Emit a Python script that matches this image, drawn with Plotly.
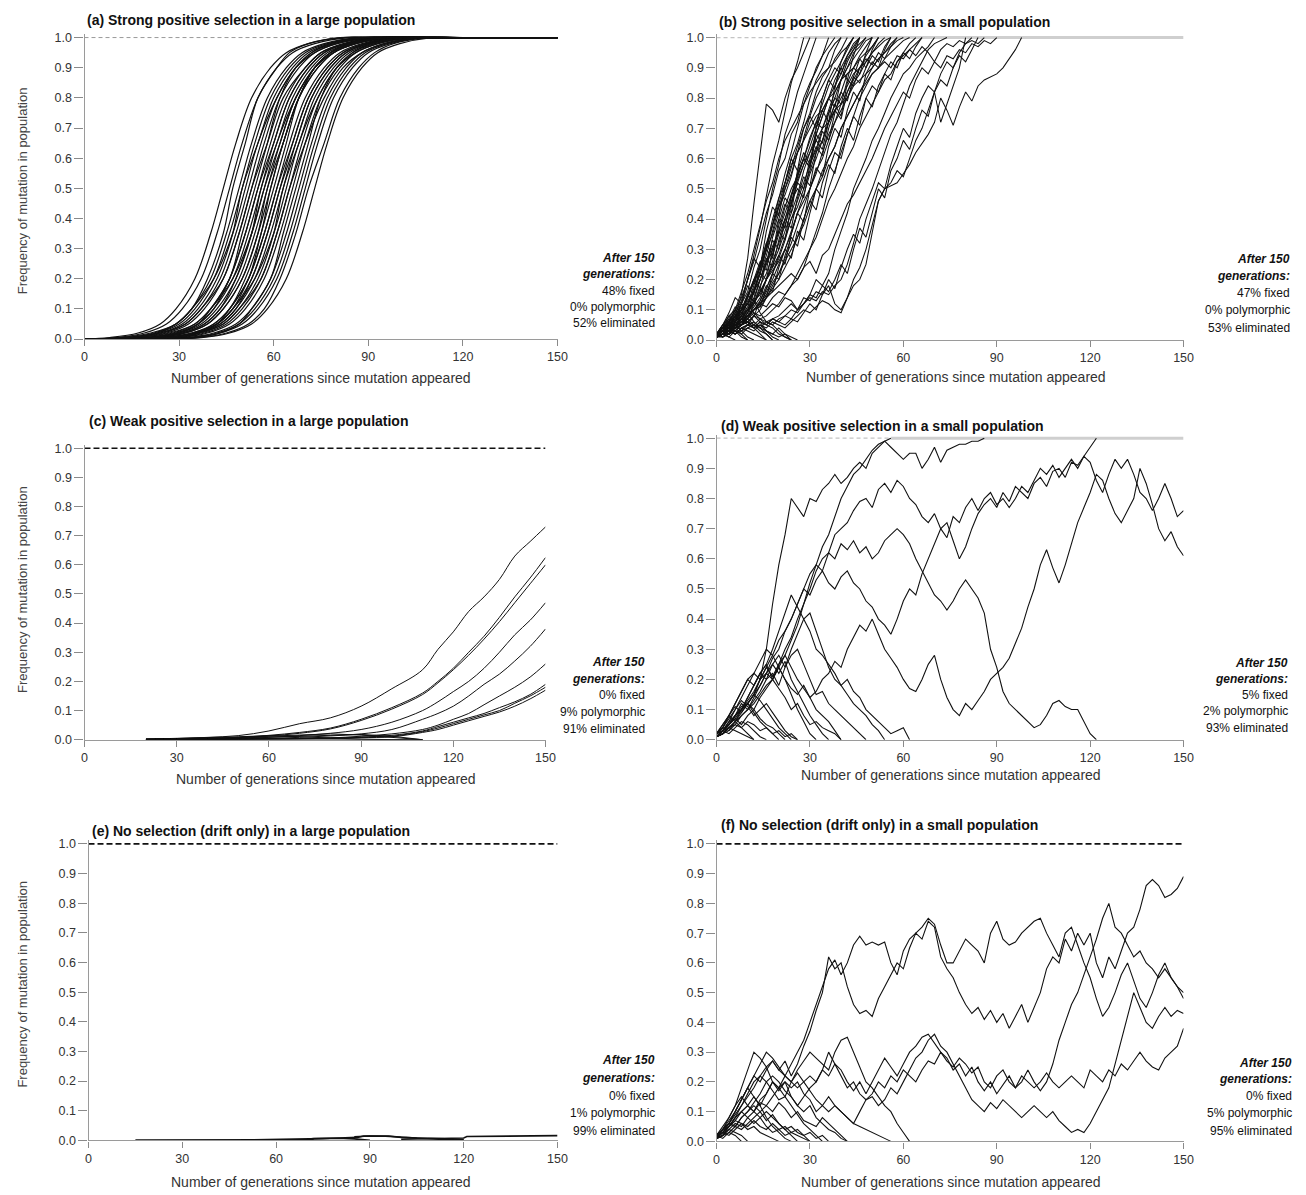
import plotly.graph_objects as go

W, H = 1306, 1195
FONT = "Liberation Sans, Arial, Helvetica, sans-serif"

# ------------------------------------------------------------------ data
PANEL_IDS = ["a", "b", "c", "d", "e", "f"]
TITLES = [
    "(a) Strong positive selection in a large population",
    "(b) Strong positive selection in a small population",
    "(c) Weak positive selection in a large population",
    "(d) Weak positive selection in a small population",
    "(e) No selection (drift only) in a large population",
    "(f) No selection (drift only) in a small population",
]
STATS = {
    "a": ["48% fixed", "0% polymorphic", "52% eliminated"],
    "b": ["47% fixed", "0% polymorphic", "53% eliminated"],
    "c": ["0% fixed", "9% polymorphic", "91% eliminated"],
    "d": ["5% fixed", "2% polymorphic", "93% eliminated"],
    "e": ["0% fixed", "1% polymorphic", "99% eliminated"],
    "f": ["0% fixed", "5% polymorphic", "95% eliminated"],
}
X_TITLE = "Number of generations since mutation appeared"
Y_TITLE = "Frequency of mutation in population"
X_TICKS = [0, 30, 60, 90, 120, 150]
Y_TICKS = [0.0, 0.1, 0.2, 0.3, 0.4, 0.5, 0.6, 0.7, 0.8, 0.9, 1.0]
Y_TICK_LABELS = ["0.0", "0.1", "0.2", "0.3", "0.4", "0.5", "0.6", "0.7", "0.8", "0.9", "1.0"]
GEN_END = 150
GEN_STEP = 2  # spacing of the sampled generations in panels b, d, f

# (a) generation at which each trajectory reaches the frequency levels below
A_LEVELS = [0.005, 0.02, 0.05, 0.1, 0.2, 0.35, 0.5, 0.65, 0.8, 0.9, 0.95, 0.98, 1.0]
A_CURVES = [
    [8, 17, 24, 29, 35, 40, 44, 48, 53, 59, 64, 71, 82],
    [10, 19, 26, 31, 37, 42, 46, 50, 55, 61, 66, 73, 84],
    [15, 23, 29, 34, 39, 44, 47, 51, 55, 61, 65, 71, 81],
    [13, 22, 29, 34, 40, 45, 49, 53, 58, 64, 69, 76, 87],
    [14, 23, 30, 35, 41, 46, 50, 54, 59, 65, 70, 77, 88],
    [11, 21, 29, 34, 41, 47, 51, 55, 61, 67, 73, 80, 93],
    [16, 25, 32, 37, 43, 48, 52, 56, 61, 67, 72, 79, 90],
    [17, 26, 33, 38, 44, 49, 53, 57, 62, 68, 73, 80, 91],
    [22, 30, 36, 40, 46, 50, 54, 58, 62, 67, 72, 78, 88],
    [19, 28, 35, 40, 46, 51, 55, 59, 64, 70, 75, 82, 93],
    [20, 29, 36, 41, 46, 51, 55, 60, 65, 71, 76, 83, 94],
    [20, 29, 36, 41, 47, 52, 56, 60, 65, 71, 76, 83, 94],
    [17, 27, 35, 40, 47, 53, 57, 61, 67, 73, 79, 86, 98],
    [22, 31, 38, 43, 49, 54, 58, 62, 67, 73, 78, 85, 96],
    [23, 32, 39, 44, 50, 55, 58, 63, 68, 74, 79, 86, 97],
    [23, 32, 39, 44, 50, 55, 59, 63, 68, 74, 79, 86, 97],
    [28, 36, 42, 46, 52, 56, 60, 64, 68, 73, 78, 84, 94],
    [25, 34, 41, 46, 52, 57, 61, 65, 70, 76, 81, 88, 99],
    [26, 35, 42, 47, 53, 58, 62, 66, 71, 77, 82, 89, 100],
    [27, 36, 43, 48, 53, 58, 62, 67, 72, 78, 83, 90, 101],
    [27, 36, 43, 48, 54, 59, 63, 67, 72, 78, 83, 90, 101],
    [24, 34, 42, 47, 54, 60, 64, 68, 74, 80, 86, 93, 104],
    [29, 38, 45, 50, 56, 61, 65, 69, 74, 80, 85, 92, 103],
    [30, 39, 46, 51, 57, 62, 66, 70, 75, 81, 86, 93, 104],
    [35, 43, 49, 53, 59, 63, 67, 71, 75, 80, 85, 91, 101],
    [32, 41, 48, 53, 59, 64, 68, 72, 77, 83, 88, 95, 106],
    [33, 42, 49, 54, 60, 65, 69, 73, 78, 84, 89, 96, 107],
    [34, 43, 50, 55, 61, 66, 70, 74, 79, 85, 90, 97, 108],
    [36, 45, 52, 57, 62, 67, 71, 76, 81, 87, 92, 98, 109],
    [37, 46, 53, 58, 64, 69, 73, 77, 82, 88, 93, 100, 110],
    [14, 24, 32, 37, 44, 49, 53, 58, 63, 70, 75, 83, 95],
    [21, 30, 37, 42, 48, 53, 56, 61, 66, 72, 77, 84, 95],
    [27, 35, 41, 46, 51, 56, 59, 63, 68, 73, 78, 84, 94],
    [26, 35, 42, 47, 52, 57, 61, 66, 71, 77, 82, 89, 100],
    [28, 37, 44, 49, 55, 60, 63, 68, 73, 79, 84, 91, 102],
    [26, 36, 44, 49, 56, 61, 65, 70, 76, 82, 88, 95, 106],
    [15, 24, 31, 36, 42, 47, 50, 55, 60, 66, 71, 78, 89],
    [22, 31, 38, 43, 48, 53, 57, 62, 67, 73, 78, 85, 96],
]

# (b) frequencies every GEN_STEP generations until fixation
B_CURVES = [
    [0.01, 0.02, 0.04, 0.08, 0.15, 0.27, 0.45, 0.62, 0.78, 0.76, 0.72, 0.8, 0.86, 0.9, 0.95, 1.0],
    [0.02, 0.04, 0.05, 0.09, 0.13, 0.2, 0.28, 0.37, 0.48, 0.58, 0.66, 0.76, 0.85, 0.92, 1.0],
    [0.01, 0.02, 0.05, 0.07, 0.12, 0.16, 0.24, 0.3, 0.4, 0.5, 0.58, 0.68, 0.74, 0.82, 0.88, 0.94, 1.0],
    [0.02, 0.03, 0.02, 0.05, 0.08, 0.11, 0.17, 0.22, 0.3, 0.38, 0.46, 0.55, 0.62, 0.7, 0.78, 0.84, 0.9, 0.94, 0.97, 1.0],
    [0.01, 0.03, 0.06, 0.1, 0.14, 0.2, 0.26, 0.34, 0.42, 0.48, 0.56, 0.6, 0.68, 0.72, 0.8, 0.85, 0.89, 0.94, 1.0],
    [0.02, 0.01, 0.03, 0.06, 0.09, 0.12, 0.18, 0.25, 0.31, 0.4, 0.47, 0.52, 0.6, 0.65, 0.72, 0.8, 0.86, 0.9, 0.95, 0.98, 1.0],
    [0.01, 0.02, 0.04, 0.05, 0.08, 0.13, 0.16, 0.22, 0.28, 0.36, 0.44, 0.5, 0.57, 0.64, 0.7, 0.75, 0.82, 0.87, 0.9, 0.96, 1.0],
    [0.02, 0.04, 0.03, 0.06, 0.1, 0.14, 0.2, 0.24, 0.3, 0.35, 0.42, 0.5, 0.55, 0.62, 0.7, 0.74, 0.8, 0.84, 0.88, 0.93, 0.96, 1.0],
    [0.01, 0.02, 0.03, 0.04, 0.07, 0.1, 0.12, 0.18, 0.22, 0.28, 0.35, 0.4, 0.47, 0.55, 0.6, 0.67, 0.72, 0.78, 0.84, 0.88, 0.92, 0.96, 1.0],
    [0.02, 0.03, 0.05, 0.08, 0.1, 0.15, 0.19, 0.24, 0.3, 0.38, 0.44, 0.48, 0.54, 0.62, 0.66, 0.72, 0.76, 0.8, 0.86, 0.9, 0.88, 0.94, 0.97, 1.0],
    [0.01, 0.03, 0.02, 0.04, 0.06, 0.09, 0.12, 0.16, 0.2, 0.26, 0.32, 0.38, 0.45, 0.52, 0.58, 0.64, 0.7, 0.76, 0.8, 0.86, 0.9, 0.94, 0.98, 1.0],
    [0.02, 0.01, 0.02, 0.04, 0.05, 0.08, 0.11, 0.14, 0.2, 0.25, 0.3, 0.36, 0.42, 0.48, 0.56, 0.62, 0.68, 0.74, 0.8, 0.84, 0.88, 0.93, 0.96, 0.98, 1.0],
    [0.01, 0.02, 0.04, 0.06, 0.08, 0.1, 0.14, 0.2, 0.26, 0.31, 0.36, 0.44, 0.5, 0.54, 0.6, 0.66, 0.72, 0.7, 0.76, 0.82, 0.86, 0.9, 0.95, 0.97, 1.0],
    [0.02, 0.03, 0.04, 0.03, 0.05, 0.07, 0.1, 0.13, 0.17, 0.22, 0.27, 0.33, 0.4, 0.46, 0.52, 0.58, 0.63, 0.7, 0.75, 0.8, 0.86, 0.9, 0.93, 0.96, 0.99, 1.0],
    [0.01, 0.02, 0.02, 0.03, 0.05, 0.08, 0.1, 0.12, 0.16, 0.2, 0.25, 0.3, 0.35, 0.42, 0.48, 0.55, 0.6, 0.66, 0.72, 0.78, 0.82, 0.88, 0.9, 0.94, 0.97, 1.0],
    [0.02, 0.03, 0.05, 0.06, 0.08, 0.1, 0.13, 0.15, 0.2, 0.24, 0.28, 0.34, 0.4, 0.44, 0.5, 0.56, 0.62, 0.66, 0.72, 0.76, 0.8, 0.84, 0.88, 0.9, 0.94, 0.97, 1.0],
    [0.01, 0.01, 0.02, 0.04, 0.05, 0.06, 0.08, 0.1, 0.14, 0.18, 0.22, 0.27, 0.32, 0.38, 0.44, 0.5, 0.56, 0.6, 0.66, 0.72, 0.76, 0.8, 0.85, 0.88, 0.92, 0.95, 0.98, 1.0],
    [0.02, 0.04, 0.06, 0.05, 0.07, 0.1, 0.12, 0.16, 0.2, 0.23, 0.26, 0.3, 0.36, 0.42, 0.46, 0.5, 0.55, 0.62, 0.68, 0.72, 0.78, 0.82, 0.86, 0.9, 0.92, 0.95, 0.97, 0.99, 1.0],
    [0.01, 0.02, 0.03, 0.05, 0.06, 0.08, 0.1, 0.11, 0.14, 0.17, 0.2, 0.24, 0.28, 0.34, 0.38, 0.44, 0.5, 0.54, 0.6, 0.64, 0.7, 0.74, 0.78, 0.82, 0.86, 0.9, 0.93, 0.95, 0.97, 1.0],
    [0.02, 0.03, 0.02, 0.04, 0.05, 0.06, 0.05, 0.07, 0.08, 0.1, 0.12, 0.15, 0.18, 0.22, 0.26, 0.3, 0.36, 0.42, 0.5, 0.56, 0.62, 0.68, 0.74, 0.8, 0.84, 0.88, 0.9, 0.93, 0.95, 0.97, 0.99, 1.0],
    [0.01, 0.02, 0.03, 0.04, 0.06, 0.08, 0.1, 0.12, 0.11, 0.14, 0.16, 0.15, 0.18, 0.2, 0.24, 0.3, 0.34, 0.4, 0.46, 0.5, 0.55, 0.6, 0.64, 0.7, 0.74, 0.78, 0.82, 0.86, 0.88, 0.92, 0.94, 0.96, 0.98, 1.0],
    [0.02, 0.03, 0.04, 0.03, 0.05, 0.06, 0.08, 0.07, 0.06, 0.05, 0.07, 0.08, 0.1, 0.09, 0.12, 0.15, 0.2, 0.18, 0.22, 0.3, 0.36, 0.42, 0.5, 0.55, 0.6, 0.66, 0.7, 0.75, 0.8, 0.84, 0.88, 0.9, 0.93, 0.95, 0.97, 1.0],
    [0.01, 0.02, 0.03, 0.02, 0.04, 0.05, 0.04, 0.06, 0.05, 0.07, 0.08, 0.1, 0.12, 0.1, 0.14, 0.13, 0.16, 0.15, 0.18, 0.12, 0.1, 0.14, 0.2, 0.24, 0.3, 0.38, 0.46, 0.5, 0.52, 0.56, 0.54, 0.6, 0.66, 0.7, 0.76, 0.82, 0.72, 0.78, 0.84, 0.9, 1.0],
    [0.01, 0.02, 0.01, 0.03, 0.02, 0.04, 0.03, 0.05, 0.04, 0.06, 0.05, 0.04, 0.06, 0.08, 0.1, 0.09, 0.11, 0.13, 0.12, 0.1, 0.09, 0.14, 0.18, 0.2, 0.25, 0.36, 0.46, 0.5, 0.51, 0.52, 0.55, 0.58, 0.62, 0.65, 0.68, 0.72, 0.8, 0.76, 0.71, 0.77, 0.82, 0.79, 0.84, 0.86, 0.87, 0.88, 0.9, 0.93, 0.96, 1.0],
    [0.02, 0.03, 0.04, 0.05, 0.07, 0.08, 0.1, 0.12, 0.14, 0.16, 0.18, 0.2, 0.22, 0.2, 0.24, 0.26, 0.22, 0.28, 0.3, 0.35, 0.4, 0.45, 0.48, 0.52, 0.56, 0.6, 0.65, 0.7, 0.74, 0.78, 0.82, 0.8, 0.86, 0.9, 0.88, 0.92, 0.9, 0.94, 0.93, 0.96, 0.95, 0.98, 0.97, 0.99, 0.98, 1.0],
    [0.01, 0.02, 0.04, 0.06, 0.05, 0.08, 0.1, 0.12, 0.15, 0.19, 0.22, 0.26, 0.3, 0.34, 0.4, 0.46, 0.5, 0.56, 0.6, 0.64, 0.7, 0.74, 0.78, 0.82, 0.85, 0.88, 0.9, 0.92, 0.9, 0.94, 0.93, 0.96, 0.94, 0.97, 0.95, 0.92, 0.96, 0.98, 0.97, 0.99, 0.98, 0.99, 0.98, 1.0],
    [0.01, 0.02, 0.03, 0.02, 0.03, 0.04, 0.05, 0.04, 0.06, 0.07, 0.06, 0.08, 0.07, 0.1, 0.12, 0.14, 0.13, 0.16, 0.15, 0.18, 0.2, 0.25, 0.32, 0.4, 0.45, 0.5, 0.56, 0.62, 0.68, 0.72, 0.78, 0.84, 0.88, 0.92, 0.96, 0.98, 0.99, 1.0],
    [0.02, 0.04, 0.06, 0.08, 0.1, 0.12, 0.16, 0.2, 0.25, 0.3, 0.36, 0.42, 0.48, 0.53, 0.58, 0.62, 0.66, 0.7, 0.72, 0.76, 0.78, 0.8, 0.84, 0.86, 0.88, 0.9, 0.93, 0.95, 0.98, 1.0],
    [0.01, 0.03, 0.06, 0.1, 0.16, 0.22, 0.3, 0.38, 0.46, 0.52, 0.6, 0.66, 0.7, 0.74, 0.78, 0.82, 0.85, 0.88, 0.9, 0.92, 0.95, 0.97, 1.0],
    [0.02, 0.03, 0.05, 0.07, 0.1, 0.14, 0.19, 0.25, 0.32, 0.38, 0.45, 0.52, 0.58, 0.62, 0.66, 0.7, 0.74, 0.76, 0.8, 0.82, 0.86, 0.88, 0.9, 0.93, 0.95, 0.97, 1.0],
    [0.02, 0.05, 0.04, 0.08, 0.12, 0.1, 0.16, 0.22, 0.2, 0.3, 0.36, 0.33, 0.45, 0.52, 0.5, 0.6, 0.66, 0.63, 0.72, 0.78, 0.74, 0.85, 0.9, 0.88, 0.95, 1.0],
    [0.01, 0.04, 0.08, 0.06, 0.12, 0.18, 0.15, 0.25, 0.32, 0.28, 0.4, 0.47, 0.44, 0.56, 0.62, 0.58, 0.7, 0.76, 0.72, 0.84, 0.9, 0.86, 0.94, 1.0],
    [0.02, 0.03, 0.07, 0.11, 0.09, 0.15, 0.2, 0.26, 0.23, 0.34, 0.4, 0.37, 0.48, 0.55, 0.6, 0.57, 0.68, 0.74, 0.8, 0.77, 0.86, 0.92, 0.96, 1.0],
    [0.01, 0.03, 0.02, 0.06, 0.09, 0.07, 0.12, 0.17, 0.14, 0.22, 0.28, 0.25, 0.35, 0.42, 0.39, 0.5, 0.57, 0.54, 0.64, 0.7, 0.67, 0.76, 0.82, 0.79, 0.88, 0.92, 0.9, 0.96, 1.0],
    [0.02, 0.05, 0.09, 0.14, 0.12, 0.2, 0.27, 0.24, 0.36, 0.44, 0.41, 0.52, 0.6, 0.56, 0.67, 0.74, 0.7, 0.8, 0.86, 0.83, 0.92, 0.97, 1.0],
    [0.01, 0.02, 0.05, 0.04, 0.07, 0.1, 0.08, 0.13, 0.18, 0.16, 0.24, 0.3, 0.27, 0.36, 0.33, 0.42, 0.5, 0.47, 0.56, 0.62, 0.6, 0.68, 0.74, 0.71, 0.8, 0.84, 0.82, 0.88, 0.92, 0.9, 0.95, 0.98, 1.0],
    [0.02, 0.04, 0.03, 0.06, 0.05, 0.09, 0.13, 0.11, 0.17, 0.22, 0.2, 0.28, 0.34, 0.31, 0.4, 0.46, 0.43, 0.52, 0.58, 0.55, 0.64, 0.7, 0.66, 0.74, 0.8, 0.77, 0.84, 0.88, 0.86, 0.92, 0.95, 0.93, 0.97, 1.0],
    [0.01, 0.03, 0.06, 0.1, 0.08, 0.14, 0.2, 0.17, 0.26, 0.33, 0.3, 0.4, 0.46, 0.5, 0.47, 0.58, 0.64, 0.61, 0.7, 0.76, 0.73, 0.82, 0.87, 0.85, 0.9, 0.94, 0.92, 0.97, 1.0],
    [0.02, 0.04, 0.07, 0.06, 0.1, 0.15, 0.13, 0.2, 0.27, 0.24, 0.33, 0.4, 0.37, 0.47, 0.54, 0.51, 0.62, 0.69, 0.66, 0.75, 0.82, 0.79, 0.87, 0.93, 0.9, 0.96, 1.0],
    [0.01, 0.02, 0.04, 0.07, 0.11, 0.09, 0.16, 0.23, 0.3, 0.27, 0.38, 0.45, 0.42, 0.54, 0.6, 0.57, 0.68, 0.65, 0.75, 0.8, 0.78, 0.86, 0.84, 0.9, 0.93, 0.91, 0.95, 0.93, 0.97, 0.99, 1.0],
    [0.02, 0.03, 0.04, 0.06, 0.05, 0.07, 0.09, 0.08, 0.1, 0.12, 0.11, 0.14, 0.13, 0.1, 0.12, 0.15, 0.14, 0.18, 0.16, 0.2, 0.25, 0.22, 0.3, 0.37, 0.34, 0.42, 0.5, 0.47, 0.56, 0.6, 0.66, 0.63, 0.7, 0.76, 0.74, 0.82, 0.86, 0.84, 0.9, 0.94, 0.92, 0.96, 1.0],
    [0.01, 0.02, 0.03, 0.02, 0.04, 0.05, 0.04, 0.06, 0.05, 0.07, 0.06, 0.05, 0.07, 0.06, 0.09, 0.12, 0.1, 0.15, 0.2, 0.17, 0.24, 0.3, 0.35, 0.32, 0.4, 0.46, 0.52, 0.5, 0.58, 0.64, 0.7, 0.67, 0.75, 0.8, 0.84, 0.82, 0.88, 0.92, 0.9, 0.95, 0.98, 1.0],
]
B_LOST = [
    [0.02, 0.03, 0.05, 0.04, 0.02, 0.0],
    [0.01, 0.02, 0.01, 0.0],
    [0.02, 0.04, 0.06, 0.08, 0.06, 0.07, 0.05, 0.03, 0.02, 0.0],
    [0.01, 0.03, 0.05, 0.07, 0.1, 0.12, 0.09, 0.07, 0.05, 0.04, 0.02, 0.01, 0.0],
    [0.02, 0.01, 0.03, 0.02, 0.04, 0.03, 0.02, 0.01, 0.0],
    [0.01, 0.02, 0.04, 0.05, 0.03, 0.05, 0.06, 0.04, 0.03, 0.02, 0.01, 0.02, 0.01, 0.0],
    [0.02, 0.04, 0.03, 0.05, 0.07, 0.06, 0.04, 0.02, 0.0],
    [0.01, 0.02, 0.02, 0.03, 0.01, 0.0],
    [0.02, 0.05, 0.08, 0.1, 0.07, 0.09, 0.06, 0.04, 0.02, 0.0],
    [0.01, 0.03, 0.06, 0.04, 0.07, 0.05, 0.08, 0.06, 0.03, 0.01, 0.0],
    [0.02, 0.03, 0.06, 0.09, 0.12, 0.1, 0.13, 0.09, 0.06, 0.05, 0.03, 0.01, 0.0],
    [0.01, 0.04, 0.02, 0.05, 0.03, 0.01, 0.0],
    [0.02, 0.05, 0.07, 0.05, 0.08, 0.06, 0.04, 0.05, 0.03, 0.02, 0.04, 0.02, 0.0],
]

# (c) frequencies at the generations in C_X
C_X = [20, 30, 40, 50, 60, 70, 80, 90, 100, 110, 115, 120, 125, 130, 135, 140, 145, 150]
C_CURVES = [
    [0.002, 0.004, 0.008, 0.014, 0.03, 0.055, 0.075, 0.115, 0.175, 0.24, 0.31, 0.37, 0.44, 0.49, 0.55, 0.63, 0.68, 0.73],
    [0.001, 0.002, 0.004, 0.008, 0.015, 0.025, 0.04, 0.07, 0.11, 0.16, 0.2, 0.245, 0.3, 0.355, 0.42, 0.49, 0.555, 0.625],
    [0.001, 0.002, 0.004, 0.007, 0.013, 0.022, 0.037, 0.066, 0.105, 0.155, 0.195, 0.24, 0.29, 0.345, 0.405, 0.47, 0.535, 0.6],
    [0.001, 0.001, 0.002, 0.004, 0.008, 0.014, 0.022, 0.035, 0.06, 0.1, 0.13, 0.165, 0.2, 0.245, 0.3, 0.36, 0.41, 0.47],
    [0.001, 0.001, 0.002, 0.003, 0.005, 0.008, 0.013, 0.02, 0.035, 0.07, 0.09, 0.115, 0.15, 0.19, 0.225, 0.27, 0.32, 0.38],
    [0.001, 0.001, 0.001, 0.002, 0.003, 0.004, 0.006, 0.012, 0.02, 0.035, 0.05, 0.07, 0.09, 0.12, 0.15, 0.18, 0.215, 0.26],
    [0.001, 0.001, 0.001, 0.002, 0.003, 0.004, 0.006, 0.009, 0.015, 0.03, 0.045, 0.06, 0.075, 0.09, 0.11, 0.13, 0.155, 0.19],
    [0.001, 0.001, 0.001, 0.001, 0.002, 0.003, 0.005, 0.008, 0.012, 0.028, 0.04, 0.055, 0.07, 0.085, 0.1, 0.125, 0.15, 0.18],
    [0.001, 0.001, 0.001, 0.001, 0.002, 0.003, 0.004, 0.007, 0.01, 0.025, 0.035, 0.05, 0.065, 0.08, 0.095, 0.115, 0.14, 0.17],
]
C_LOST_X = [20, 30, 40, 50, 60, 70, 80, 90, 100, 110]
C_LOST = [
    [0.002, 0.004, 0.006, 0.01, 0.014, 0.01, 0.005, 0.002, 0.0, 0.0],
    [0.001, 0.003, 0.005, 0.008, 0.012, 0.016, 0.02, 0.016, 0.008, 0.0],
    [0.001, 0.002, 0.004, 0.006, 0.009, 0.012, 0.014, 0.018, 0.012, 0.0],
    [0.002, 0.003, 0.005, 0.004, 0.003, 0.002, 0.001, 0.0, 0.0, 0.0],
]

# (d) frequencies every GEN_STEP generations
D_CURVES = [
    [0.01, 0.03, 0.05, 0.08, 0.1, 0.12, 0.15, 0.2, 0.3, 0.45, 0.58, 0.68, 0.8, 0.77, 0.74, 0.8, 0.79, 0.83, 0.85, 0.88,
     0.85, 0.87, 0.9, 0.92, 0.9, 0.95, 0.97, 0.99, 1.0],
    [0.01, 0.02, 0.04, 0.06, 0.08, 0.1, 0.12, 0.15, 0.18, 0.2, 0.24, 0.28, 0.33, 0.38, 0.45, 0.52, 0.58, 0.64, 0.68, 0.74,
     0.8, 0.84, 0.88, 0.9, 0.93, 0.96, 0.98, 0.99, 0.97, 0.95, 0.93, 0.95, 0.95, 0.9, 0.93, 0.97, 0.92, 0.96, 0.97, 0.98,
     0.98, 0.99, 0.99, 1.0],
    [0.01, 0.03, 0.06, 0.08, 0.11, 0.12, 0.1, 0.14, 0.17, 0.2, 0.25, 0.3, 0.34, 0.4, 0.45, 0.5, 0.56, 0.6, 0.62, 0.68,
     0.7, 0.72, 0.76, 0.79, 0.8, 0.77, 0.83, 0.85, 0.82, 0.86, 0.84, 0.8, 0.78, 0.74, 0.72, 0.75, 0.7, 0.72, 0.66, 0.6,
     0.64, 0.7, 0.75, 0.78, 0.8, 0.77, 0.82, 0.79, 0.84, 0.82, 0.8, 0.85, 0.87, 0.84, 0.89, 0.9, 0.87, 0.92, 0.91, 0.94,
     0.97, 1.0],
    [0.02, 0.04, 0.08, 0.12, 0.16, 0.2, 0.22, 0.2, 0.24, 0.28, 0.33, 0.36, 0.4, 0.45, 0.5, 0.55, 0.58, 0.56, 0.62, 0.6,
     0.65, 0.63, 0.66, 0.62, 0.64, 0.6, 0.62, 0.66, 0.68, 0.7, 0.68, 0.65, 0.6, 0.56, 0.52, 0.48, 0.46, 0.43, 0.46, 0.5,
     0.53, 0.5, 0.47, 0.42, 0.3, 0.24, 0.16, 0.12, 0.1, 0.08, 0.06, 0.04, 0.05, 0.08, 0.12, 0.13, 0.11, 0.1, 0.1, 0.06,
     0.02, 0.0],
    [0.01, 0.03, 0.05, 0.08, 0.1, 0.13, 0.16, 0.2, 0.22, 0.2, 0.24, 0.2, 0.17, 0.15, 0.18, 0.14, 0.16, 0.2, 0.22, 0.26,
     0.24, 0.3, 0.34, 0.38, 0.36, 0.4, 0.35, 0.3, 0.27, 0.24, 0.2, 0.17, 0.16, 0.2, 0.25, 0.28, 0.2, 0.14, 0.1, 0.08,
     0.12, 0.1, 0.13, 0.16, 0.2, 0.22, 0.24, 0.27, 0.32, 0.37, 0.44, 0.5, 0.58, 0.63, 0.57, 0.52, 0.58, 0.65, 0.72, 0.77,
     0.82, 0.88, 0.86, 0.8, 0.75, 0.72, 0.76, 0.8, 0.9, 0.85, 0.78, 0.7, 0.66, 0.69, 0.64, 0.61],
    [0.01, 0.03, 0.05, 0.07, 0.1, 0.12, 0.15, 0.18, 0.22, 0.27, 0.3, 0.36, 0.4, 0.45, 0.5, 0.48, 0.53, 0.56, 0.52, 0.5,
     0.54, 0.56, 0.52, 0.5, 0.46, 0.44, 0.4, 0.38, 0.35, 0.4, 0.46, 0.5, 0.48, 0.55, 0.6, 0.65, 0.7, 0.67, 0.74, 0.72,
     0.77, 0.8, 0.76, 0.8, 0.82, 0.78, 0.8, 0.77, 0.8, 0.84, 0.82, 0.86, 0.9, 0.88, 0.91, 0.87, 0.9, 0.93, 0.9, 0.94,
     0.92, 0.86, 0.82, 0.88, 0.93, 0.9, 0.93, 0.88, 0.82, 0.8, 0.76, 0.8, 0.85, 0.8, 0.74, 0.76],
    [0.01, 0.02, 0.04, 0.06, 0.1, 0.14, 0.18, 0.22, 0.25, 0.3, 0.36, 0.42, 0.48, 0.44, 0.4, 0.36, 0.3, 0.28, 0.25, 0.22,
     0.18, 0.2, 0.16, 0.14, 0.1, 0.08, 0.06, 0.04, 0.02, 0.03, 0.04, 0.0],
    [0.02, 0.03, 0.05, 0.08, 0.1, 0.14, 0.18, 0.22, 0.2, 0.25, 0.28, 0.24, 0.3, 0.35, 0.4, 0.42, 0.36, 0.3, 0.24, 0.2,
     0.18, 0.15, 0.12, 0.1, 0.08, 0.05, 0.03, 0.0],
    [0.01, 0.02, 0.04, 0.05, 0.08, 0.1, 0.13, 0.16, 0.2, 0.22, 0.18, 0.24, 0.28, 0.3, 0.25, 0.2, 0.15, 0.16, 0.12, 0.1,
     0.08, 0.06, 0.04, 0.02, 0.0],
    [0.01, 0.03, 0.05, 0.08, 0.1, 0.12, 0.09, 0.06, 0.04, 0.02, 0.0],
    [0.02, 0.04, 0.07, 0.1, 0.14, 0.18, 0.22, 0.26, 0.3, 0.28, 0.24, 0.2, 0.15, 0.1, 0.06, 0.02, 0.0],
    [0.01, 0.02, 0.05, 0.08, 0.12, 0.1, 0.14, 0.18, 0.22, 0.25, 0.22, 0.26, 0.2, 0.16, 0.12, 0.08, 0.05, 0.02, 0.0],
    [0.02, 0.05, 0.08, 0.06, 0.04, 0.02, 0.0],
    [0.01, 0.03, 0.06, 0.1, 0.13, 0.11, 0.08, 0.1, 0.12, 0.09, 0.06, 0.03, 0.01, 0.0],
    [0.02, 0.04, 0.03, 0.06, 0.09, 0.12, 0.15, 0.2, 0.24, 0.21, 0.25, 0.28, 0.24, 0.2, 0.17, 0.14, 0.1, 0.08, 0.06, 0.03, 0.0],
    [0.01, 0.02, 0.04, 0.03, 0.02, 0.01, 0.0],
    [0.02, 0.03, 0.05, 0.07, 0.05, 0.08, 0.1, 0.07, 0.05, 0.04, 0.02, 0.0],
    [0.01, 0.02, 0.03, 0.05, 0.04, 0.06, 0.05, 0.03, 0.04, 0.02, 0.03, 0.01, 0.02, 0.0],
    [0.02, 0.04, 0.08, 0.12, 0.16, 0.2, 0.18, 0.22, 0.25, 0.2, 0.17, 0.14, 0.1, 0.12, 0.08, 0.05, 0.06, 0.04, 0.03, 0.02, 0.0],
    [0.01, 0.03, 0.02, 0.04, 0.06, 0.05, 0.03, 0.01, 0.0],
    [0.02, 0.05, 0.08, 0.11, 0.09, 0.12, 0.15, 0.13, 0.1, 0.07, 0.04, 0.02, 0.0],
]

# (e) the few trajectories that stay barely above zero
E_X = [
    [15, 25, 35, 45, 55, 65, 72],
    [50, 60, 70, 75, 80, 85, 90],
    [70, 72, 80, 86, 88, 96, 100, 105, 110, 115, 120],
    [85, 90, 95, 100, 105, 110, 115, 120],
    [100, 105, 110, 115, 120, 121, 130, 140, 150],
]
E_Y = [
    [0.001, 0.001, 0.002, 0.002, 0.003, 0.003, 0.002],
    [0.001, 0.002, 0.004, 0.006, 0.007, 0.005, 0.0],
    [0.004, 0.006, 0.008, 0.01, 0.015, 0.015, 0.01, 0.008, 0.006, 0.004, 0.0],
    [0.012, 0.015, 0.014, 0.01, 0.008, 0.007, 0.005, 0.003],
    [0.004, 0.005, 0.007, 0.008, 0.008, 0.013, 0.014, 0.015, 0.016],
]

# (f) frequencies every GEN_STEP generations
F_CURVES = [
    [0.01, 0.04, 0.08, 0.12, 0.18, 0.24, 0.3, 0.28, 0.25, 0.27, 0.24, 0.27, 0.22, 0.26, 0.32, 0.37, 0.44, 0.5, 0.62, 0.58,
     0.6, 0.52, 0.46, 0.43, 0.44, 0.42, 0.48, 0.52, 0.56, 0.6, 0.58, 0.65, 0.7, 0.68, 0.74, 0.72, 0.62, 0.58, 0.55, 0.5,
     0.46, 0.43, 0.45, 0.41, 0.44, 0.4, 0.43, 0.38, 0.42, 0.46, 0.4, 0.45, 0.5, 0.58, 0.62, 0.6, 0.68, 0.64, 0.7, 0.66,
     0.7, 0.6, 0.55, 0.62, 0.58, 0.64, 0.7, 0.72, 0.78, 0.86, 0.88, 0.86, 0.82, 0.83, 0.85, 0.89],
    [0.02, 0.03, 0.06, 0.1, 0.14, 0.18, 0.22, 0.2, 0.24, 0.27, 0.24, 0.22, 0.26, 0.3, 0.34, 0.4, 0.46, 0.52, 0.58, 0.61,
     0.56, 0.6, 0.66, 0.69, 0.66, 0.67, 0.66, 0.67, 0.6, 0.56, 0.64, 0.68, 0.7, 0.72, 0.75, 0.73, 0.66, 0.6, 0.6, 0.64,
     0.68, 0.66, 0.64, 0.6, 0.7, 0.74, 0.68, 0.66, 0.67, 0.7, 0.72, 0.74, 0.75, 0.7, 0.66, 0.62, 0.7, 0.72, 0.66, 0.6,
     0.55, 0.48, 0.42, 0.45, 0.5, 0.56, 0.6, 0.54, 0.48, 0.45, 0.5, 0.56, 0.6, 0.55, 0.52, 0.48],
    [0.01, 0.03, 0.05, 0.08, 0.1, 0.12, 0.15, 0.12, 0.16, 0.2, 0.18, 0.22, 0.2, 0.18, 0.2, 0.22, 0.2, 0.24, 0.22, 0.26,
     0.24, 0.2, 0.17, 0.2, 0.16, 0.2, 0.24, 0.28, 0.25, 0.22, 0.26, 0.3, 0.32, 0.35, 0.36, 0.33, 0.3, 0.28, 0.24, 0.26,
     0.22, 0.25, 0.2, 0.17, 0.2, 0.16, 0.19, 0.22, 0.18, 0.2, 0.24, 0.2, 0.17, 0.2, 0.26, 0.34, 0.4, 0.46, 0.5, 0.56,
     0.62, 0.68, 0.75, 0.8, 0.72, 0.7, 0.66, 0.62, 0.64, 0.6, 0.58, 0.55, 0.58, 0.55, 0.52, 0.5],
    [0.02, 0.04, 0.06, 0.05, 0.08, 0.1, 0.13, 0.16, 0.2, 0.22, 0.2, 0.17, 0.15, 0.12, 0.15, 0.18, 0.2, 0.24, 0.3, 0.26,
     0.22, 0.18, 0.2, 0.16, 0.14, 0.15, 0.12, 0.14, 0.18, 0.16, 0.2, 0.24, 0.28, 0.3, 0.34, 0.36, 0.32, 0.3, 0.26, 0.22,
     0.18, 0.14, 0.12, 0.1, 0.13, 0.11, 0.14, 0.12, 0.1, 0.08, 0.1, 0.12, 0.1, 0.08, 0.1, 0.07, 0.05, 0.03, 0.04, 0.03,
     0.06, 0.1, 0.14, 0.18, 0.26, 0.34, 0.42, 0.5, 0.45, 0.4, 0.38, 0.42, 0.45, 0.42, 0.44, 0.43],
    [0.01, 0.02, 0.04, 0.06, 0.05, 0.08, 0.1, 0.13, 0.12, 0.15, 0.18, 0.2, 0.18, 0.2, 0.16, 0.14, 0.1, 0.12, 0.15, 0.12,
     0.1, 0.08, 0.06, 0.1, 0.14, 0.16, 0.2, 0.18, 0.22, 0.2, 0.24, 0.22, 0.2, 0.24, 0.27, 0.26, 0.3, 0.27, 0.25, 0.28,
     0.26, 0.23, 0.25, 0.2, 0.18, 0.22, 0.24, 0.2, 0.18, 0.22, 0.2, 0.18, 0.2, 0.23, 0.2, 0.18, 0.2, 0.22, 0.2, 0.18,
     0.24, 0.22, 0.2, 0.24, 0.22, 0.26, 0.24, 0.27, 0.3, 0.27, 0.25, 0.24, 0.28, 0.3, 0.32, 0.38],
    [0.01, 0.03, 0.05, 0.08, 0.1, 0.12, 0.1, 0.14, 0.16, 0.2, 0.18, 0.15, 0.2, 0.24, 0.27, 0.3, 0.28, 0.26, 0.24, 0.3,
     0.34, 0.35, 0.3, 0.25, 0.2, 0.18, 0.15, 0.12, 0.1, 0.06, 0.03, 0.0],
    [0.02, 0.04, 0.07, 0.1, 0.14, 0.18, 0.22, 0.26, 0.3, 0.28, 0.25, 0.22, 0.2, 0.23, 0.2, 0.17, 0.14, 0.12, 0.1, 0.12,
     0.1, 0.08, 0.06, 0.05, 0.04, 0.03, 0.02, 0.01, 0.0],
    [0.01, 0.02, 0.05, 0.08, 0.12, 0.15, 0.18, 0.22, 0.25, 0.2, 0.17, 0.2, 0.15, 0.12, 0.1, 0.12, 0.08, 0.06, 0.04, 0.03,
     0.01, 0.0],
    [0.01, 0.03, 0.06, 0.1, 0.14, 0.18, 0.15, 0.12, 0.08, 0.05, 0.03, 0.01, 0.0],
    [0.02, 0.04, 0.06, 0.05, 0.08, 0.1, 0.12, 0.1, 0.07, 0.09, 0.06, 0.04, 0.05, 0.03, 0.02, 0.0],
    [0.01, 0.02, 0.04, 0.03, 0.02, 0.0],
    [0.02, 0.05, 0.08, 0.12, 0.15, 0.12, 0.1, 0.08, 0.1, 0.08, 0.06, 0.04, 0.02, 0.0],
    [0.01, 0.02, 0.03, 0.05, 0.04, 0.06, 0.08, 0.1, 0.12, 0.1, 0.13, 0.11, 0.08, 0.1, 0.07, 0.06, 0.05, 0.08, 0.06, 0.04,
     0.02, 0.0],
    [0.02, 0.01, 0.03, 0.02, 0.0],
    [0.01, 0.03, 0.05, 0.07, 0.06, 0.04, 0.05, 0.03, 0.02, 0.01, 0.0],
    [0.02, 0.04, 0.06, 0.09, 0.12, 0.16, 0.2, 0.22, 0.2, 0.17, 0.14, 0.15, 0.12, 0.09, 0.06, 0.04, 0.02, 0.0],
    [0.01, 0.02, 0.05, 0.07, 0.1, 0.08, 0.06, 0.08, 0.05, 0.03, 0.04, 0.02, 0.03, 0.02, 0.01, 0.0],
    [0.02, 0.03, 0.02, 0.04, 0.06, 0.05, 0.07, 0.05, 0.04, 0.06, 0.04, 0.05, 0.03, 0.04, 0.02, 0.03, 0.01, 0.02, 0.0],
]

# ------------------------------------------------------------------ layout geometry (pixels)
# panel: (x of gen 0, x of gen 150, y of freq 0, y of freq 1)
GEOM = {
    "a": (84, 557, 338, 37),
    "b": (716, 1183, 339, 37),
    "c": (84, 545, 738, 447),
    "d": (716, 1183, 738, 437),
    "e": (88, 557, 1138, 842),
    "f": (716, 1183, 1139, 842),
}
TITLE_POS = {"a": (84, 19), "b": (716, 21), "c": (86, 420), "d": (718, 425), "e": (89, 829), "f": (718, 823)}
STAT_POS = {
    "a": (656, [257, 273, 290, 306, 322]),
    "b": (1291, [258, 275, 292, 309, 327]),
    "c": (646, [660, 677, 693, 710, 727]),
    "d": (1289, [661, 677, 693, 709, 726]),
    "e": (656, [1058, 1076, 1094, 1111, 1129]),
    "f": (1293, [1061, 1077, 1094, 1111, 1129]),
}
XTITLE_POS = {"a": (320, 377), "b": (955, 376), "c": (325, 777), "d": (950, 773), "e": (320, 1180), "f": (950, 1180)}
YTITLE_POS = {"a": (22, 190), "c": (22, 588), "e": (22, 982)}
Y_TOP = 1.012
# calibration between read-off pixels and page pixels
CAL_SCALE = 0.99
CAL_OFFSET = 2.5


def px(x):  # read-off x -> paper fraction
    return ((x - CAL_OFFSET) / CAL_SCALE) / W


def py(y):  # read-off y -> paper fraction (from bottom)
    return (H - (y - CAL_OFFSET) / CAL_SCALE) / H


fig = go.Figure()
layout = dict(
    width=W, height=H, paper_bgcolor="white", plot_bgcolor="white",
    margin=dict(l=0, r=0, t=0, b=0), showlegend=False,
    font=dict(family=FONT, color="#222"),
)
annotations = []


def axis_names(n):
    s = "" if n == 1 else str(n)
    return "x" + s, "y" + s, "xaxis" + s, "yaxis" + s


def add_line(n, xs, ys, color="#111", width=1.0, dash=None, shape="linear"):
    xa, ya, _, _ = axis_names(n)
    line = dict(color=color, width=width, shape=shape)
    if dash:
        line["dash"] = dash
    fig.add_trace(go.Scatter(x=xs, y=ys, mode="lines", line=line, xaxis=xa, yaxis=ya,
                             hoverinfo="skip"))


def step_x(vals):
    return [i * GEN_STEP for i in range(len(vals))]


for i, pid in enumerate(PANEL_IDS):
    n = i + 1
    xa, ya, xk, yk = axis_names(n)
    x0, x1, y0, y1 = GEOM[pid]
    unit = y0 - y1
    ytop = y1 - (Y_TOP - 1.0) * unit
    layout[xk] = dict(
        domain=[px(x0), px(x1)], range=[0, GEN_END], anchor=ya,
        tickmode="array", tickvals=X_TICKS, ticktext=[str(t) for t in X_TICKS],
        ticks="outside", ticklen=6, tickwidth=1.2, tickcolor="#8a8a8a",
        showline=True, linecolor="#9a9a9a", linewidth=1.3, showgrid=False, zeroline=False,
        tickfont=dict(size=12.5, color="#333", family=FONT), fixedrange=True,
    )
    layout[yk] = dict(
        domain=[py(y0), py(ytop)], range=[0, Y_TOP], anchor=xa,
        tickmode="array", tickvals=Y_TICKS, ticktext=Y_TICK_LABELS,
        ticks="outside", ticklen=9, tickwidth=1.2, tickcolor="#8a8a8a",
        showline=True, linecolor="#9a9a9a", linewidth=1.3, showgrid=False, zeroline=False,
        tickfont=dict(size=12.5, color="#333", family=FONT), fixedrange=True,
    )
    tx, ty = TITLE_POS[pid]
    annotations.append(dict(text="<b>" + TITLES[i] + "</b>", x=px(tx), y=py(ty),
                            xref="paper", yref="paper", xanchor="left", yanchor="middle",
                            showarrow=False, font=dict(size=14, color="#111", family=FONT)))
    sx, sys_ = STAT_POS[pid]
    lines = ["<b><i>After 150</i></b>", "<b><i>generations:</i></b>"] + STATS[pid]
    for txt, yy in zip(lines, sys_):
        annotations.append(dict(text=txt, x=px(sx), y=py(yy), xref="paper", yref="paper",
                                xanchor="right", yanchor="middle", showarrow=False,
                                font=dict(size=12, color="#111", family=FONT)))
    xtx, xty = XTITLE_POS[pid]
    annotations.append(dict(text=X_TITLE, x=px(xtx), y=py(xty), xref="paper", yref="paper",
                            xanchor="center", yanchor="middle", showarrow=False,
                            font=dict(size=14, color="#333", family=FONT)))
    if pid in YTITLE_POS:
        yx, yy = YTITLE_POS[pid]
        annotations.append(dict(text=Y_TITLE, x=px(yx), y=py(yy), xref="paper", yref="paper",
                                xanchor="center", yanchor="middle", textangle=-90, showarrow=False,
                                font=dict(size=13, color="#444", family=FONT)))

# ---------------- panel a
first_fix_a = min(c[-1] for c in A_CURVES)
add_line(1, [0, first_fix_a], [1.0, 1.0], color="#9a9a9a", width=1.0, dash="4px,3px")
for c in A_CURVES:
    add_line(1, [0] + c + [c[-1] + 12, GEN_END], [0.0] + A_LEVELS + [1.0, 1.0], width=1.2, shape="spline")

# ---------------- panel b
first_fix_b = min((len(c) - 1) * GEN_STEP for c in B_CURVES)
add_line(2, [0, first_fix_b], [1.0, 1.0], color="#c4c4c4", width=1.2, dash="4px,3px")
add_line(2, [first_fix_b, GEN_END], [1.0, 1.0], color="#cfcfcf", width=3)
for c in B_CURVES + B_LOST:
    add_line(2, step_x(c), c, width=1.05)

# ---------------- panel c
add_line(3, [0, GEN_END], [1.0, 1.0], color="#111", width=1.6, dash="6px,3px")
for c in C_LOST:
    add_line(3, C_LOST_X, c, width=1.0)
for c in C_CURVES:
    add_line(3, C_X, c, width=1.0, shape="spline")

# ---------------- panel d
fixed_d = [(len(c) - 1) * GEN_STEP for c in D_CURVES if c[-1] >= 1.0]
first_fix_d = min(fixed_d)
add_line(4, [0, first_fix_d], [1.0, 1.0], color="#c4c4c4", width=1.2, dash="4px,3px")
add_line(4, [first_fix_d, GEN_END], [1.0, 1.0], color="#cfcfcf", width=3)
for c in D_CURVES:
    add_line(4, step_x(c), c, width=1.1)

# ---------------- panel e
add_line(5, [0, GEN_END], [1.0, 1.0], color="#111", width=1.6, dash="6px,3px")
for xs, ys in zip(E_X, E_Y):
    add_line(5, xs, ys, width=1.6)

# ---------------- panel f
add_line(6, [0, GEN_END], [1.0, 1.0], color="#111", width=1.6, dash="6px,3px")
for c in F_CURVES:
    add_line(6, step_x(c), c, width=1.1)

layout["annotations"] = annotations
fig.update_layout(**layout)

# the page itself should add no margin or scrollbars around the 1306x1195 figure
PAGE_RESET = (
    "document.documentElement.style.margin='0';document.body.style.margin='0';"
    "document.documentElement.style.overflow='hidden';document.body.style.overflow='hidden';"
)
fig.write_html("out.html", post_script=PAGE_RESET, config={"displayModeBar": False})
